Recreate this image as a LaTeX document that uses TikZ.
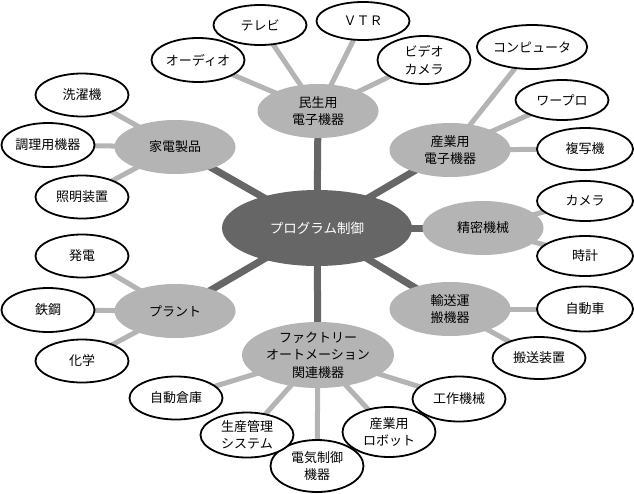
\documentclass[tikz,border=0pt]{standalone}
\usepackage{fontspec}
\setmainfont{Noto Sans CJK JP}
\usetikzlibrary{shapes.geometric,backgrounds}
\definecolor{darkg}{HTML}{666666}
\definecolor{lightg}{HTML}{B4B4B4}
\tikzset{
  hub/.style={ellipse,fill=darkg,text=white,minimum width=190pt,minimum height=76pt,inner sep=0pt,font=\fontsize{13.5}{16}\selectfont},
  cat/.style={ellipse,fill=lightg,minimum width=121pt,minimum height=54pt,inner sep=0pt,align=center,font=\fontsize{13}{17.5}\selectfont},
  leaf/.style={ellipse,draw=black,line width=1.8pt,fill=white,minimum width=93pt,minimum height=42pt,inner sep=0pt,align=center,font=\fontsize{13}{17.5}\selectfont},
  thick link/.style={draw=darkg,line width=7pt},
  thin link/.style={draw=lightg,line width=5pt},
}
\begin{document}
\begin{tikzpicture}[x=1pt,y=-1pt]
\useasboundingbox (0,0) rectangle (634,493);
% hub and categories
\node[hub] (c) at (317,228) {プログラム制御};
\node[cat] (minsei) at (318,111) {民生用\\電子機器};
\node[cat] (kaden) at (175,147) {家電製品};
\node[cat] (sangyo) at (450,150) {産業用\\電子機器};
\node[cat] (seimitsu) at (483,228) {精密機械};
\node[cat] (plant) at (175,311) {プラント};
\node[cat] (yuso) at (450,309) {輸送運\\搬機器};
\node[cat,minimum width=152pt,minimum height=66pt] (fa) at (318,355) {ファクトリー\\オートメーション\\関連機器};
% leaves
\node[leaf,minimum height=40pt] (tv) at (260,25) {テレビ};
\node[leaf,minimum height=38pt] (vtr) at (363,21) {ＶＴＲ};
\node[leaf,minimum height=44pt] (audio) at (198,60) {オーディオ};
\node[leaf,minimum height=48pt] (video) at (424,60) {ビデオ\\カメラ};
\node[leaf,minimum width=102pt,minimum height=44pt] (pc) at (532,47) {コンピュータ};
\node[leaf,minimum height=40pt] (wp) at (562,100) {ワープロ};
\node[leaf,minimum width=96pt] (copy) at (585,149) {複写機};
\node[leaf,minimum width=96pt,minimum height=40pt] (camera) at (585,201) {カメラ};
\node[leaf,minimum width=96pt,minimum height=40pt] (clock) at (585,256) {時計};
\node[leaf,minimum width=96pt,minimum height=45pt] (car) at (585,309) {自動車};
\node[leaf] (hanso) at (539,358) {搬送装置};
\node[leaf,minimum height=45pt] (kosaku) at (459,399) {工作機械};
\node[leaf,minimum height=50pt] (robot) at (389,432) {産業用\\ロボット};
\node[leaf,minimum height=52pt] (denki) at (317,466) {電気制御\\機器};
\node[leaf,minimum height=45pt] (seisan) at (247,435) {生産管理\\システム};
\node[leaf,minimum height=43pt] (soko) at (176,398) {自動倉庫};
\node[leaf,minimum height=43pt] (kagaku) at (82,361) {化学};
\node[leaf,minimum height=44pt] (tekko) at (48,310) {鉄鋼};
\node[leaf,minimum height=43pt] (hatsuden) at (82,256) {発電};
\node[leaf,minimum height=43pt] (sentaku) at (82,95) {洗濯機};
\node[leaf,minimum height=44pt] (chouri) at (48,145) {調理用機器};
\node[leaf,minimum height=43pt] (shoumei) at (82,197) {照明装置};
% connectors
\begin{scope}[on background layer]
\foreach \n in {minsei,kaden,sangyo,seimitsu,plant,yuso,fa}
  \path[thick link] (c.center) -- (\n.center);
\foreach \n in {tv,vtr,audio,video}
  \path[thin link] (minsei.center) -- (\n.center);
\foreach \n in {pc,wp,copy}
  \path[thin link] (sangyo.center) -- (\n.center);
\foreach \n in {camera,clock}
  \path[thin link] (seimitsu.center) -- (\n.center);
\foreach \n in {car,hanso}
  \path[thin link] (yuso.center) -- (\n.center);
\foreach \n in {kosaku,robot,denki,seisan,soko}
  \path[thin link] (fa.center) -- (\n.center);
\foreach \n in {kagaku,tekko,hatsuden}
  \path[thin link] (plant.center) -- (\n.center);
\foreach \n in {sentaku,chouri,shoumei}
  \path[thin link] (kaden.center) -- (\n.center);
\end{scope}
\end{tikzpicture}
\end{document}
